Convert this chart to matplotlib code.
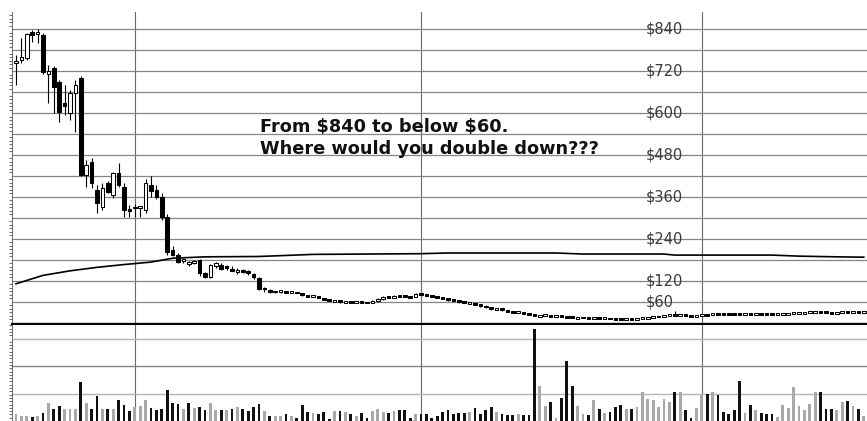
import numpy as np
import matplotlib
matplotlib.use("Agg")
import matplotlib.pyplot as plt
from matplotlib.ticker import MultipleLocator

# weekly candles (open, high, low, close)
opens = [745, 752, 757, 832, 826, 823, 712, 729, 689, 628,
         600, 657, 700, 423, 460, 380, 331, 400, 366, 429,
         389, 326, 329, 329, 323, 394, 380, 360, 303, 209,
         194, 178, 170, 172, 180, 143, 131, 163, 166, 163,
         154, 147, 151, 146, 140, 128, 100, 94, 89, 90,
         91, 87, 88, 85, 80, 75, 76, 71, 67, 63,
         64, 59, 61, 58, 60, 59, 58, 62, 68, 74,
         71, 78, 77, 75, 74, 84, 82, 79, 77, 74,
         70, 66, 63, 60, 58, 58, 53, 49, 45, 40,
         41, 37, 34, 31, 31, 28, 25, 21, 21.5, 22,
         20, 20.5, 19, 17, 15, 15.5, 16, 14, 14.5, 13,
         13.5, 12, 11, 10, 11, 10.5, 12, 14, 16, 18,
         19, 21, 25, 23, 23.5, 21, 20, 21.5, 23, 22.5,
         27, 26.5, 26, 25.5, 25, 24.5, 25.5, 25, 26, 25.5,
         25, 24.5, 25, 26, 27, 28.5, 29, 30, 31, 32,
         31, 30, 29.5, 30, 31, 30, 31, 30]
highs = [765, 815, 829, 836, 840, 830, 737, 735, 695, 680,
         666, 694, 705, 466, 471, 394, 400, 405, 431, 457,
         400, 337, 340, 334, 410, 420, 395, 370, 310, 220,
         200, 186, 178, 180, 182, 145, 168, 175, 170, 166,
         163, 156, 155, 150, 143, 131, 102, 96, 92, 93,
         92, 90, 89, 86, 81, 79, 77, 72, 68, 67,
         65, 63, 62, 61, 61, 60, 65, 72, 76, 75,
         80, 80, 78, 76, 86, 86, 83, 80, 78, 75,
         71, 67, 64, 61, 60, 59, 54, 50, 46, 43,
         42, 38, 35, 33, 32, 29, 26, 24, 24, 23,
         22, 21, 20, 18, 17, 17, 16.5, 16, 15, 15,
         14, 12.5, 11.5, 12, 12, 13, 15, 17, 19, 20,
         22, 25, 33, 25, 24, 22, 23, 24, 24, 28,
         28, 27, 27, 26, 26, 26, 26, 27, 27, 26,
         25.5, 26, 27, 28, 30, 30, 31, 32, 34, 33,
         32, 31, 31, 32, 32, 32, 32, 31.5]
lows = [680, 743, 751, 803, 800, 712, 629, 600, 574, 594,
        580, 546, 420, 389, 386, 314, 323, 370, 357, 389,
        303, 303, 303, 303, 315, 360, 355, 295, 195, 190,
        170, 172, 164, 168, 135, 128, 128, 158, 152, 152,
        148, 140, 144, 138, 125, 94, 88, 87, 86, 87,
        86, 86, 85, 78, 74, 74, 70, 66, 62, 62,
        58, 57, 56, 56, 57, 56, 57, 61, 67, 70,
        70, 75, 73, 72, 73, 80, 77, 76, 72, 68,
        64, 61, 58, 56, 56, 51, 47, 43, 38, 39,
        35, 32, 29, 30, 27, 24, 19, 20, 20, 18,
        19, 17, 15, 13, 14, 14, 12, 13, 11, 12,
        11, 10, 9, 9, 9.5, 10, 11.5, 13.5, 15.5, 17,
        18.5, 20.5, 21, 21, 20, 19, 19.5, 21, 22, 22,
        26, 25, 25, 24, 23, 24, 24, 24.5, 25, 24.5,
        24, 24, 24.5, 25.5, 26.5, 28, 28.5, 29.5, 30.5, 30,
        29, 29, 29, 29.5, 29, 29.5, 29, 29.5]
closes = [747, 760, 825, 822, 830, 717, 720, 674, 603, 620,
          657, 680, 423, 451, 400, 343, 386, 374, 429, 394,
          323, 320, 331, 332, 400, 377, 360, 303, 203, 194,
          174, 180, 172, 176, 143, 131, 166, 171, 155, 158,
          150, 152, 148, 144, 131, 96, 97, 90, 91, 91.5,
          88, 88.5, 86, 80, 76, 77, 72, 68, 64, 65,
          60, 61, 58, 60, 59, 58, 63, 68, 74, 72,
          78, 77, 75, 74, 84, 82, 79, 77, 74, 70,
          66, 63, 60, 58, 58.5, 53, 49, 45, 40, 41,
          37, 34, 31, 31.5, 28, 25, 21, 21.5, 22, 20,
          20.5, 19, 17, 15, 15.5, 16, 14, 14.5, 13, 13.5,
          12, 11, 10, 11, 10.5, 12, 14, 16, 18, 19,
          21, 24, 23, 23.5, 21, 20, 21.5, 23, 22.5, 27,
          26.5, 26, 25.5, 25, 24.5, 25.5, 25, 26, 25.5, 25,
          24.5, 25, 26, 27, 28.5, 29, 30, 31, 32, 31,
          30, 29.5, 30, 31, 30, 31, 30, 30.5]
volume = [0.27, 0.19, 0.19, 0.15, 0.17, 0.3, 0.67, 0.42, 0.55, 0.42,
          0.42, 0.42, 1.42, 0.67, 0.42, 0.9, 0.42, 0.42, 0.42, 0.75,
          0.57, 0.37, 0.5, 0.55, 0.75, 0.46, 0.4, 0.42, 1.12, 0.67,
          0.61, 0.42, 0.67, 0.46, 0.52, 0.4, 0.67, 0.4, 0.4, 0.4,
          0.42, 0.52, 0.42, 0.37, 0.52, 0.62, 0.37, 0.17, 0.17, 0.17,
          0.27, 0.2, 0.12, 0.58, 0.34, 0.3, 0.24, 0.34, 0.06, 0.36,
          0.36, 0.34, 0.27, 0.18, 0.3, 0.12, 0.36, 0.42, 0.34, 0.3,
          0.36, 0.41, 0.39, 0.12, 0.24, 0.27, 0.24, 0.12, 0.18, 0.34,
          0.39, 0.24, 0.3, 0.3, 0.34, 0.46, 0.24, 0.39, 0.51, 0.34,
          0.24, 0.22, 0.22, 0.24, 0.22, 0.22, 3.33, 1.27, 0.55, 0.7,
          0.12, 0.85, 2.2, 1.26, 0.55, 0.24, 0.22, 0.75, 0.42, 0.3,
          0.34, 0.51, 0.6, 0.42, 0.42, 0.51, 1.07, 0.79, 0.75, 0.51,
          0.79, 0.7, 1.07, 1.07, 0.39, 0.12, 0.46, 0.95, 0.97, 1.07,
          0.95, 0.34, 0.24, 0.39, 1.45, 0.3, 0.58, 0.39, 0.3, 0.27,
          0.27, 0.15, 0.6, 0.46, 1.24, 0.55, 0.39, 0.63, 1.07, 1.07,
          0.42, 0.42, 0.39, 0.7, 0.73, 0.55, 0.42, 0.18]

# long moving average, read at a few weeks
ma_week = [0, 5, 10, 15, 20, 25, 29, 35, 45, 55, 65, 75, 80, 100, 105, 120, 122, 140, 145, 152, 157]
ma_value = [112, 136, 149, 159, 167, 174, 185, 189, 190, 196, 197, 198, 200, 200, 197, 197, 194, 194, 191, 189, 188]

year_marks = [22, 75, 127]
price_labels = [840, 720, 600, 480, 360, 240, 120, 60]

W, H = 867, 421
fig = plt.figure(figsize=(W / 100, H / 100), dpi=100)
fig.patch.set_facecolor("white")

ax = fig.add_axes([12 / W, (H - 324) / H, (W - 12) / W, 312 / H])
axv = fig.add_axes([12 / W, 0, (W - 12) / W, 96 / H])

n = len(closes)
x = np.arange(n)
o = np.array(opens, float)
c = np.array(closes, float)
hi = np.array(highs, float)
lo = np.array(lows, float)

# candles
ax.vlines(x, lo, hi, color="black", lw=0.8, zorder=3)
body = np.maximum(np.abs(c - o), 5.5)
mid = (o + c) / 2
face = np.where(c < o, "black", "white")
ax.bar(x, body, bottom=mid - body / 2, width=0.66, color=face,
       edgecolor="black", linewidth=0.75, zorder=4)

ax.plot(ma_week, ma_value, color="black", lw=1.2, zorder=5)

ax.set_ylim(-2.9, 888.6)

for a in (ax, axv):
    a.set_xlim(-0.74, 157.6)
    a.set_xticks(year_marks)
    a.tick_params(axis="both", which="major", length=0, labelleft=False, labelbottom=False)
    a.tick_params(axis="y", which="minor", length=2.5, width=0.6, color="#555555", direction="out")
    a.tick_params(axis="x", which="minor", length=0)
    a.grid(axis="x", color="#6a6a6a", lw=0.8)
    a.set_axisbelow(True)
    for s in ("top", "right"):
        a.spines[s].set_visible(False)
    a.spines["left"].set_color("#555555")
    a.spines["left"].set_linewidth(0.6)

ax.yaxis.set_major_locator(MultipleLocator(60))
ax.yaxis.set_minor_locator(MultipleLocator(10))
ax.grid(axis="y", color="#858585", lw=0.9)
ax.spines["bottom"].set_linewidth(2.3)
ax.spines["bottom"].set_color("black")
ax.spines["bottom"].set_zorder(6)

# volume
prev = np.concatenate(([c[0]], c[:-1]))
vcol = np.where(c < prev, "#111111", "#a9a9a9")
axv.bar(x, volume, width=0.5, color=vcol, zorder=3)
axv.set_ylim(0, 96 / 27.5)
axv.set_yticks([1, 2, 3])
axv.yaxis.set_minor_locator(MultipleLocator(0.12))
axv.grid(axis="y", color="#b5b5b5", lw=1.0)
axv.get_ygridlines()[1].set_color("#858585")
axv.spines["bottom"].set_visible(False)

# price labels inside the chart
for p in price_labels:
    ax.text((646 - 12) / (W - 12), p, f"${p}", transform=ax.get_yaxis_transform(),
            ha="left", va="center", fontsize=10.5, color="#3a3a3a", zorder=7)

fig.text(260 / W, 1 - 132 / H, r"From \$840 to below \$60.", fontsize=12.8,
         fontweight="bold", color="#111111", va="baseline", ha="left")
fig.text(260 / W, 1 - 153.5 / H, "Where would you double down???", fontsize=12.8,
         fontweight="bold", color="#111111", va="baseline", ha="left")

fig.savefig("out.png", dpi=100, facecolor="white")
